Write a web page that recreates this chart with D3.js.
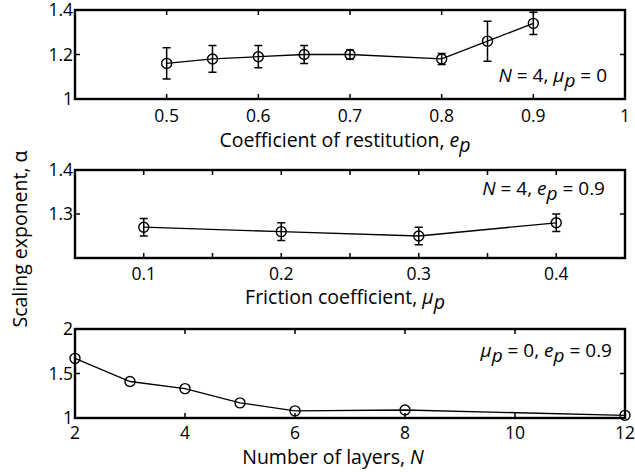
<!DOCTYPE html>
<html>
<head>
<meta charset="utf-8">
<script src="https://cdn.jsdelivr.net/npm/d3@7"></script>
<style>
  html, body { margin: 0; padding: 0; background: #fff; }
  svg { display: block; font-family: "Open Sans", "DejaVu Sans", sans-serif; }
</style>
</head>
<body>
<svg id="chart" width="635" height="472"></svg>
<script>
// Panel 1: scaling exponent vs coefficient of restitution (N = 4, mu_p = 0)
const restitution = [0.5, 0.55, 0.6, 0.65, 0.7, 0.8, 0.85, 0.9];
const alphaRestitution = [1.16, 1.18, 1.19, 1.20, 1.20, 1.18, 1.26, 1.34];
const errRestitution = [0.07, 0.06, 0.05, 0.04, 0.02, 0.025, 0.09, 0.05];
const ticksXRestitution = [0.4, 0.5, 0.6, 0.7, 0.8, 0.9, 1];
const labelsXRestitution = [0.5, 0.6, 0.7, 0.8, 0.9, 1];
const ticksYRestitution = [1, 1.2, 1.4];

// Panel 2: scaling exponent vs friction coefficient (N = 4, e_p = 0.9)
const friction = [0.1, 0.2, 0.3, 0.4];
const alphaFriction = [1.27, 1.26, 1.25, 1.28];
const errFriction = [0.02, 0.02, 0.02, 0.02];
const ticksXFriction = [0.1, 0.15, 0.2, 0.25, 0.3, 0.35, 0.4];
const labelsXFriction = [0.1, 0.2, 0.3, 0.4];
const ticksYFriction = [1.2, 1.3, 1.4];
const labelsYFriction = [1.3, 1.4];

// Panel 3: scaling exponent vs number of layers (mu_p = 0, e_p = 0.9)
const layers = [2, 3, 4, 5, 6, 8, 12];
const alphaLayers = [1.67, 1.41, 1.33, 1.17, 1.08, 1.09, 1.03];
const ticksXLayers = [2, 4, 6, 8, 10, 12];
const ticksYLayers = [1, 1.5, 2];

const svg = d3.select("#chart");
const fmt = d3.format("~g");
const left = 75, right = 625;

const panels = [
  {
    top: 10, bottom: 99,
    xDomain: [0.4, 1], yDomain: [1, 1.4],
    xs: restitution, ys: alphaRestitution, errs: errRestitution,
    xTicks: ticksXRestitution, xLabels: labelsXRestitution,
    yTicks: ticksYRestitution, yLabels: ticksYRestitution,
    tickBase: 122, labelBase: 147, labelX: 345,
    label: [["Coefficient of restitution, ", "n"], ["e", "i"], ["p", "s"]],
    note: [["N", "i"], [" = 4, ", "n"], ["μ", "i"], ["p", "s"], [" = 0", "u"]],
    noteX: 607, noteY: 82
  },
  {
    top: 170, bottom: 258,
    xDomain: [0.05, 0.45], yDomain: [1.2, 1.4],
    xs: friction, ys: alphaFriction, errs: errFriction,
    xTicks: ticksXFriction, xLabels: labelsXFriction,
    yTicks: ticksYFriction, yLabels: labelsYFriction,
    tickBase: 280, labelBase: 304, labelX: 345,
    label: [["Friction coefficient, ", "n"], ["μ", "i"], ["p", "s"]],
    note: [["N", "i"], [" = 4, ", "n"], ["e", "i"], ["p", "s"], [" = 0.9", "u"]],
    noteX: 605, noteY: 195
  },
  {
    top: 329, bottom: 418,
    xDomain: [2, 12], yDomain: [1, 2],
    xs: layers, ys: alphaLayers, errs: null,
    xTicks: ticksXLayers, xLabels: ticksXLayers,
    yTicks: ticksYLayers, yLabels: ticksYLayers,
    tickBase: 439, labelBase: 464, labelX: 333,
    label: [["Number of layers, ", "n"], ["N", "i"]],
    note: [["μ", "i"], ["p", "s"], [" = 0, ", "u"], ["e", "i"], ["p", "s"], [" = 0.9", "u"]],
    noteX: 612, noteY: 357
  }
];

// Append a run of text pieces: n = normal, i = italic, s = italic subscript, u = normal after subscript
function richText(sel, pieces) {
  pieces.forEach(([txt, kind]) => {
    const t = sel.append("tspan").text(txt);
    if (kind === "i" || kind === "s") t.attr("font-style", "italic");
    if (kind === "s") t.attr("dy", 5);
    if (kind === "u") t.attr("dy", -5);
  });
  return sel;
}

panels.forEach(p => {
  const x = d3.scaleLinear().domain(p.xDomain).range([left, right]);
  const y = d3.scaleLinear().domain(p.yDomain).range([p.bottom, p.top]);
  const g = svg.append("g");
  const tick = 5;

  // Inward ticks on all four sides
  g.selectAll(".xt").data(p.xTicks).join("path")
    .attr("d", d => `M${x(d)},${p.bottom}v${-tick}M${x(d)},${p.top}v${tick}`)
    .attr("stroke", "#000").attr("stroke-width", 1.5);
  g.selectAll(".yt").data(p.yTicks).join("path")
    .attr("d", d => `M${left},${y(d)}h${tick}M${right},${y(d)}h${-tick}`)
    .attr("stroke", "#000").attr("stroke-width", 1.5);

  // Tick labels
  g.selectAll(".xl").data(p.xLabels).join("text")
    .attr("x", d => x(d)).attr("y", p.tickBase)
    .attr("text-anchor", "middle").attr("font-size", 17.5)
    .text(d => fmt(d));
  g.selectAll(".yl").data(p.yLabels).join("text")
    .attr("x", left - 2).attr("y", d => y(d)).attr("dy", "0.35em")
    .attr("text-anchor", "end").attr("font-size", 17.5)
    .text(d => fmt(d));

  // Connecting line
  const pts = p.xs.map((v, i) => [v, p.ys[i]]);
  g.append("path").datum(pts)
    .attr("fill", "none").attr("stroke", "#000").attr("stroke-width", 1.3)
    .attr("d", d3.line().x(d => x(d[0])).y(d => y(d[1])));

  // Error bars
  if (p.errs) {
    const cap = 4;
    g.selectAll(".eb").data(p.xs.map((v, i) => [v, p.ys[i], p.errs[i]])).join("path")
      .attr("fill", "none").attr("stroke", "#000").attr("stroke-width", 1.5)
      .attr("d", d => {
        const cx = x(d[0]), y1 = y(d[1] + d[2]), y0 = y(d[1] - d[2]);
        return `M${cx},${y0}V${y1}M${cx - cap},${y1}h${2 * cap}M${cx - cap},${y0}h${2 * cap}`;
      });
  }

  // Open circle markers
  g.selectAll(".mk").data(pts).join("circle")
    .attr("cx", d => x(d[0])).attr("cy", d => y(d[1])).attr("r", 5)
    .attr("fill", "none").attr("stroke", "#000").attr("stroke-width", 1.4);

  // Axes box
  g.append("rect")
    .attr("x", left).attr("y", p.top)
    .attr("width", right - left).attr("height", p.bottom - p.top)
    .attr("fill", "none").attr("stroke", "#000").attr("stroke-width", 2.4);

  // Axis label
  richText(g.append("text")
    .attr("x", p.labelX).attr("y", p.labelBase)
    .attr("text-anchor", "middle").attr("font-size", 19.5), p.label);

  // Parameter annotation
  richText(g.append("text")
    .attr("x", p.noteX).attr("y", p.noteY)
    .attr("text-anchor", "end").attr("font-size", 19), p.note);
});

// Shared y-axis label
svg.append("text")
  .attr("transform", "translate(27,239) rotate(-90)")
  .attr("text-anchor", "middle").attr("font-size", 19.5)
  .text("Scaling exponent, α");
</script>
</body>
</html>
